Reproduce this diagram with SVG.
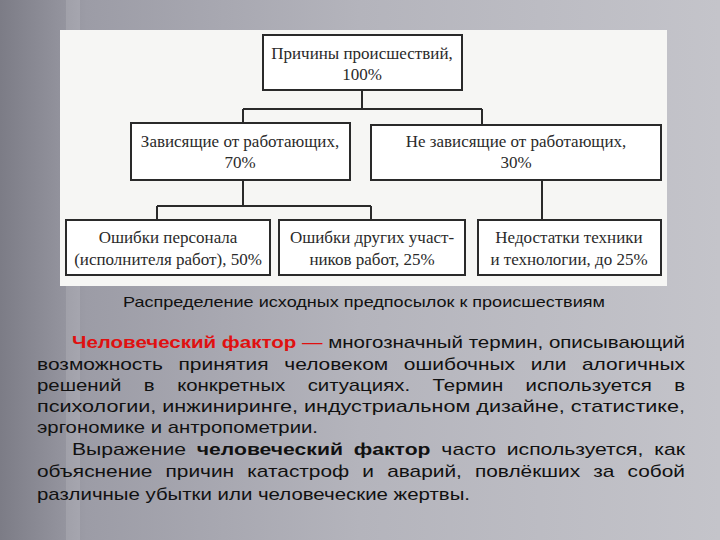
<svg xmlns="http://www.w3.org/2000/svg" width="720" height="540" viewBox="0 0 720 540">
<defs>
<linearGradient id="bg" x1="0" y1="0" x2="1" y2="0">
<stop offset="0" stop-color="#7c7c86"/>
<stop offset="0.12" stop-color="#9c9ca6"/>
<stop offset="0.5" stop-color="#b4b4bc"/>
<stop offset="1" stop-color="#c4c4ca"/>
</linearGradient>
<style>
.box{fill:#ffffff;stroke:#2a2a2a;stroke-width:2}
.bt{font-family:"Liberation Serif",serif;font-size:17px;fill:#2a2a2a;text-anchor:middle}
.ln{stroke:#2a2a2a;stroke-width:2;fill:none}
.p{font-family:"Liberation Sans",sans-serif;font-size:17px;fill:#111}
.cap{font-family:"Liberation Sans",sans-serif;font-size:15px;fill:#111}
</style>
</defs>
<rect width="720" height="540" fill="url(#bg)"/>
<rect x="66" y="0" width="14" height="540" fill="#ffffff" opacity="0.12"/>
<rect x="60" y="30" width="607" height="256" fill="#f6f6f4"/>
<g id="connectors">
<path class="ln" d="M362 90 V109 M243 109 H482 M243 109 V123 M482 109 V125"/>
<path class="ln" d="M243 180 V206 M157 206 H371 M157 206 V220 M371 206 V220"/>
<path class="ln" d="M542 180 V220"/>
</g>
<g id="n-top"><rect class="box" x="263" y="35" width="199" height="55"/>
<text class="bt" x="362" y="59">Причины происшествий,</text><text class="bt" x="362" y="80">100%</text></g>
<g id="n-dep"><rect class="box" x="131" y="123" width="219" height="57"/>
<text class="bt" x="240" y="147">Зависящие от работающих,</text><text class="bt" x="240" y="168">70%</text></g>
<g id="n-indep"><rect class="box" x="371" y="125" width="290" height="55"/>
<text class="bt" x="516" y="147">Не зависящие от работающих,</text><text class="bt" x="516" y="168">30%</text></g>
<g id="n-pers"><rect class="box" x="66" y="220" width="204" height="55"/>
<text class="bt" x="168" y="243">Ошибки персонала</text><text class="bt" x="168" y="265">(исполнителя работ), 50%</text></g>
<g id="n-other"><rect class="box" x="279" y="220" width="186" height="55"/>
<text class="bt" x="372" y="243">Ошибки других участ-</text><text class="bt" x="372" y="265">ников работ, 25%</text></g>
<g id="n-tech"><rect class="box" x="478" y="220" width="183" height="55"/>
<text class="bt" x="569" y="243">Недостатки техники</text><text class="bt" x="569" y="265">и технологии, до 25%</text></g>
<text class="cap" x="123" y="307" textLength="482" lengthAdjust="spacingAndGlyphs">Распределение исходных предпосылок к происшествиям</text>
<text class="p" x="72" y="348" textLength="613" lengthAdjust="spacingAndGlyphs"><tspan fill="#e01010" font-weight="bold">Человеческий фактор</tspan> <tspan fill="#e01010">—</tspan> многозначный термин, описывающий</text>
<text class="p" x="37" y="370" textLength="648" lengthAdjust="spacingAndGlyphs" word-spacing="8">возможность принятия человеком ошибочных или алогичных</text>
<text class="p" x="37" y="391" textLength="648" lengthAdjust="spacingAndGlyphs" word-spacing="14">решений в конкретных ситуациях. Термин используется в</text>
<text class="p" x="37" y="412" textLength="648" lengthAdjust="spacingAndGlyphs">психологии, инжиниринге, индустриальном дизайне, статистике,</text>
<text class="p" x="37" y="433" textLength="281" lengthAdjust="spacingAndGlyphs">эргономике и антропометрии.</text>
<text class="p" x="72" y="455" textLength="613" lengthAdjust="spacingAndGlyphs" word-spacing="4">Выражение <tspan font-weight="bold">человеческий фактор</tspan> часто используется, как</text>
<text class="p" x="37" y="477" textLength="648" lengthAdjust="spacingAndGlyphs" word-spacing="6">объяснение причин катастроф и аварий, повлёкших за собой</text>
<text class="p" x="37" y="500" textLength="433" lengthAdjust="spacingAndGlyphs">различные убытки или человеческие жертвы.</text>
</svg>
